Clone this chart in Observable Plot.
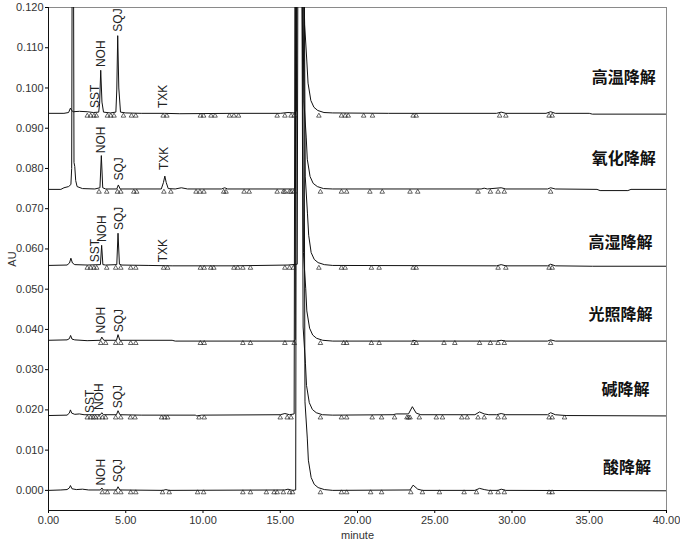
<!DOCTYPE html>
<html>
<head>
<meta charset="utf-8">
<script src="https://cdn.jsdelivr.net/npm/d3@7"></script>
<script src="https://cdn.jsdelivr.net/npm/@observablehq/plot@0.6"></script>
<style>
  html, body { margin: 0; padding: 0; background: #fff; }
  #chart { width: 680px; height: 540px; }
</style>
</head>
<body>
<div id="chart"></div>
<script>
// ---- Tick labels ----
const xTicks = [0, 5, 10, 15, 20, 25, 30, 35, 40];
const yTicks = [0, 0.01, 0.02, 0.03, 0.04, 0.05, 0.06, 0.07, 0.08, 0.09, 0.10, 0.11, 0.12];

// ---- Condition names (one per trace, top to bottom) ----
const conditions = ["高温降解", "氧化降解", "高湿降解", "光照降解", "碱降解", "酸降解"];
const conditionLabelY = [0.1024, 0.0825, 0.0616, 0.0435, 0.0249, 0.0057];
const conditionLabelX = [39.3, 39.3, 39.1, 39.1, 38.9, 39.0];

// ---- Chromatogram traces: [minute, AU] ----
const traceHighTemp = [
  [0, 0.0937], [1.0, 0.0937], [1.3, 0.0939], [1.42, 0.0950], [1.5, 0.0944], [1.6, 0.0941],
  [2.0, 0.0942], [2.5, 0.0941], [2.9, 0.0939], [3.25, 0.0940], [3.31, 0.0962], [3.38, 0.1044],
  [3.46, 0.0965], [3.56, 0.0940], [4.0, 0.0938], [4.36, 0.0940], [4.42, 0.0995], [4.48, 0.1130],
  [4.55, 0.1000], [4.66, 0.0940], [5.0, 0.0938], [6.0, 0.0937], [7.5, 0.0937], [8.5, 0.0936],
  [12.0, 0.0937], [15.0, 0.0937], [15.5, 0.0939], [15.9, 0.0938], [16.04, 0.0942], [16.08, 0.1300],
  [16.5, 0.1300], [16.58, 0.1157], [16.72, 0.1067], [16.8, 0.1012], [16.98, 0.0969], [17.18, 0.0952],
  [17.43, 0.0944], [17.83, 0.0939], [18.4, 0.0938], [22.0, 0.0937], [29.0, 0.0937], [29.3, 0.0940],
  [29.6, 0.0937], [32.2, 0.0937], [32.5, 0.0941], [32.8, 0.0937], [35.0, 0.0937], [35.2, 0.0935],
  [40, 0.0935]
];
const traceOxidation = [
  [0, 0.0748], [0.8, 0.0748], [1.0, 0.0752], [1.3, 0.0755], [1.45, 0.0760], [1.5, 0.0800],
  [1.53, 0.1300], [1.62, 0.1300], [1.65, 0.0815], [1.7, 0.0805], [1.76, 0.0770], [1.85, 0.0755],
  [2.2, 0.0750], [3.0, 0.0749], [3.33, 0.0752], [3.42, 0.0832], [3.51, 0.0752], [3.7, 0.0749],
  [4.42, 0.0749], [4.52, 0.0759], [4.64, 0.0749], [7.3, 0.0749], [7.44, 0.0765], [7.53, 0.0781],
  [7.62, 0.0765], [7.75, 0.0750], [8.2, 0.0749], [8.6, 0.0752], [9.0, 0.0749], [11.2, 0.0749],
  [11.4, 0.0752], [11.6, 0.0749], [15.9, 0.0749], [15.98, 0.0754], [16.02, 0.1300], [16.45, 0.1300],
  [16.53, 0.0968], [16.68, 0.0878], [16.75, 0.0823], [16.93, 0.0780], [17.13, 0.0763], [17.4, 0.0755],
  [17.8, 0.0750], [18.4, 0.0749], [28.0, 0.0749], [28.2, 0.0751], [28.4, 0.0749], [29.3, 0.0752],
  [29.6, 0.0749], [32.3, 0.0749], [32.5, 0.0752], [32.8, 0.0749], [35.5, 0.0748], [35.7, 0.0745],
  [37.5, 0.0745], [37.7, 0.0748], [40, 0.0748]
];
const traceHumidity = [
  [0, 0.0559], [1.2, 0.0560], [1.36, 0.0565], [1.45, 0.0577], [1.55, 0.0565], [1.7, 0.0561],
  [2.5, 0.0560], [3.36, 0.0561], [3.44, 0.0609], [3.52, 0.0561], [3.7, 0.0560], [4.42, 0.0561],
  [4.5, 0.0639], [4.59, 0.0562], [4.75, 0.0560], [6.5, 0.0559], [8.0, 0.0558], [12.0, 0.0558],
  [15.5, 0.0560], [16.1, 0.0562], [16.14, 0.1300], [16.55, 0.1300], [16.62, 0.0779], [16.76, 0.0689],
  [16.84, 0.0634], [17.0, 0.0591], [17.2, 0.0574], [17.45, 0.0566], [17.85, 0.0561], [18.4, 0.0559],
  [29.0, 0.0558], [29.3, 0.0561], [29.6, 0.0558], [32.3, 0.0558], [32.5, 0.0562], [32.8, 0.0558],
  [35.2, 0.0557], [40, 0.0557]
];
const traceLight = [
  [0, 0.0373], [1.2, 0.0374], [1.35, 0.0377], [1.43, 0.0385], [1.52, 0.0376], [1.7, 0.0374],
  [2.5, 0.0372], [3.36, 0.0373], [3.45, 0.0381], [3.58, 0.0373], [4.4, 0.0373], [4.5, 0.0387],
  [4.62, 0.0373], [8.0, 0.0373], [8.2, 0.0371], [15.9, 0.0371], [15.97, 0.0375], [16.0, 0.1300],
  [16.42, 0.1300], [16.5, 0.0591], [16.65, 0.0501], [16.72, 0.0446], [16.9, 0.0403], [17.1, 0.0386],
  [17.35, 0.0378], [17.75, 0.0373], [18.4, 0.0371], [23.5, 0.0371], [23.65, 0.0373], [23.8, 0.0371],
  [29.0, 0.0371], [29.3, 0.0373], [29.6, 0.0371], [32.3, 0.0371], [32.5, 0.0374], [32.8, 0.0371],
  [40, 0.0371]
];
const traceBase = [
  [0, 0.0186], [1.2, 0.0187], [1.35, 0.0192], [1.42, 0.0200], [1.5, 0.0192], [1.7, 0.0189],
  [2.0, 0.0190], [2.3, 0.0188], [3.36, 0.0188], [3.45, 0.0193], [3.55, 0.0188], [4.4, 0.0188],
  [4.5, 0.0198], [4.62, 0.0188], [6.0, 0.0187], [9.5, 0.0187], [9.6, 0.0185], [9.9, 0.0187],
  [15.0, 0.0188], [15.3, 0.0191], [15.6, 0.0188], [15.9, 0.0190], [15.95, 0.1300], [16.4, 0.1300],
  [16.48, 0.0406], [16.63, 0.0316], [16.7, 0.0261], [16.88, 0.0218], [17.08, 0.0201], [17.33, 0.0193],
  [17.73, 0.0188], [18.4, 0.0187], [22.3, 0.0188], [22.5, 0.0190], [23.3, 0.0190], [23.55, 0.0208],
  [23.8, 0.0192], [24.1, 0.0188], [27.6, 0.0188], [27.9, 0.0195], [28.2, 0.0190], [28.5, 0.0188],
  [29.0, 0.0188], [29.3, 0.0191], [29.6, 0.0188], [32.3, 0.0188], [32.5, 0.0193], [32.8, 0.0188],
  [33.5, 0.0186], [40, 0.0185]
];
const traceAcid = [
  [0, 0.0000], [0.8, 0.0001], [1.2, 0.0002], [1.35, 0.0006], [1.42, 0.0012], [1.52, 0.0004],
  [1.8, 0.0002], [2.2, 0.0003], [2.6, 0.0001], [3.36, 0.0001], [3.45, 0.0006], [3.55, 0.0001],
  [4.4, 0.0001], [4.5, 0.0009], [4.62, 0.0001], [7.4, 0.0000], [7.6, 0.0002], [7.8, 0.0000],
  [15.3, 0.0001], [15.5, 0.0003], [15.8, 0.0000], [16.0, 0.0001], [16.05, 0.1300], [16.52, 0.1300],
  [16.6, 0.0220], [16.75, 0.0130], [16.82, 0.0075], [17.0, 0.0032], [17.2, 0.0015], [17.45, 0.0007],
  [17.85, 0.0002], [18.4, 0.0000], [23.4, 0.0001], [23.6, 0.0013], [23.9, 0.0003], [24.2, 0.0000],
  [27.6, 0.0000], [27.9, 0.0005], [28.2, 0.0002], [28.5, 0.0000], [29.1, 0.0000], [29.3, 0.0003],
  [29.6, 0.0000], [40, -0.0001]
];
const traces = [traceHighTemp, traceOxidation, traceHumidity, traceLight, traceBase, traceAcid];

// ---- Integration markers (minutes) and baseline level per trace ----
const markerBaseline = [0.0937, 0.0748, 0.0559, 0.0372, 0.0187, 0.0001];
const markersHighTemp = [2.51, 2.73, 2.94, 3.1, 3.81, 4.03, 4.24, 4.85, 5.37, 5.65, 7.42, 7.66, 9.83, 10.04, 10.52, 10.78, 11.71, 12.0, 12.3, 14.8, 15.3, 15.7, 15.9, 17.5, 18.96, 19.2, 19.4, 20.4, 20.97, 23.6, 23.8, 29.2, 29.6, 32.4, 32.6];
const markersOxidation = [3.27, 3.77, 4.46, 4.68, 5.52, 5.71, 7.47, 7.92, 9.55, 9.8, 10.06, 11.34, 11.49, 12.66, 12.99, 14.8, 15.2, 15.3, 15.6, 15.7, 15.9, 17.6, 18.96, 19.3, 20.8, 21.6, 23.4, 23.9, 27.8, 28.6, 29.1, 29.5, 32.5];
const markersHumidity = [2.51, 2.73, 2.94, 3.12, 3.77, 4.35, 4.68, 5.32, 5.65, 7.45, 7.71, 9.83, 10.08, 10.5, 10.7, 12.0, 12.25, 12.58, 13.07, 15.3, 15.6, 15.85, 17.5, 18.96, 19.2, 20.9, 21.4, 23.6, 23.8, 29.1, 29.6, 32.4, 32.6];
const markersLight = [3.38, 3.7, 4.35, 4.68, 5.32, 5.65, 9.83, 10.08, 12.58, 13.07, 15.3, 15.9, 17.6, 19.1, 19.3, 20.9, 21.4, 23.6, 23.8, 25.6, 26.3, 27.9, 28.6, 29.1, 29.5, 32.5];
const markersBase = [2.51, 2.73, 2.9, 3.05, 3.27, 3.49, 3.7, 4.35, 4.68, 5.3, 5.6, 7.32, 7.53, 7.71, 9.74, 10.08, 15.0, 15.45, 15.7, 17.6, 18.96, 19.3, 20.95, 21.56, 22.4, 23.2, 23.3, 23.4, 24.0, 25.1, 25.5, 26.75, 27.1, 27.8, 28.2, 29.1, 29.5, 32.4, 32.6, 33.4];
const markersAcid = [3.48, 3.81, 4.35, 4.68, 5.32, 5.65, 7.38, 7.81, 9.65, 10.04, 12.58, 13.07, 14.1, 14.6, 14.8, 15.2, 15.6, 15.8, 17.6, 18.96, 19.3, 20.85, 21.56, 23.45, 24.2, 25.3, 26.9, 27.7, 28.6, 29.1, 29.5, 32.4, 32.6];
const markers = [markersHighTemp, markersOxidation, markersHumidity, markersLight, markersBase, markersAcid];

// ---- Peak name labels: [name, minute, AU at the label's bottom] ----
const peakLabels = [
  ["SST", 3.02, 0.0950], ["NOH", 3.38, 0.1052], ["SQJ", 4.52, 0.1140], ["TXK", 7.45, 0.0950],
  ["NOH", 3.40, 0.0838], ["SQJ", 4.55, 0.0770], ["TXK", 7.5, 0.0796],
  ["SST", 3.02, 0.0567], ["NOH", 3.45, 0.0617], ["SQJ", 4.55, 0.0647], ["TXK", 7.45, 0.0567],
  ["NOH", 3.42, 0.0390], ["SQJ", 4.55, 0.0393],
  ["SST", 2.7, 0.0192], ["NOH", 3.3, 0.0200], ["SQJ", 4.5, 0.0204],
  ["NOH", 3.38, 0.0012], ["SQJ", 4.52, 0.0020]
];

// ---- Build tables for the library ----
const lineData = traces.flatMap((pts, i) => pts.map(([t, v]) => ({t, v, s: i})));
const markerData = markers.flatMap((ts, i) => ts.map(t => ({t, v: markerBaseline[i]})));
const peakData = peakLabels.map(([name, t, v]) => ({name, t, v}));
const condData = conditions.map((name, i) => ({name, t: conditionLabelX[i], v: conditionLabelY[i]}));

const chart = Plot.plot({
  width: 680,
  height: 540,
  marginLeft: 48,
  marginRight: 14,
  marginTop: 7,
  marginBottom: 30,
  style: {fontFamily: "'Liberation Sans', Arial, sans-serif", fontSize: "11px", background: "#fff"},
  x: {domain: [0, 40]},
  y: {domain: [-0.005, 0.12]},
  marks: [
    Plot.frame({stroke: "#8a8a8a"}),
    Plot.line(lineData, {x: "t", y: "v", z: "s", stroke: "#111", strokeWidth: 1, clip: true}),
    Plot.dot(markerData, {x: "t", y: "v", symbol: "triangle", r: 1.7, stroke: "#222", strokeWidth: 0.7, fill: "none", dy: 2.5}),
    Plot.text(peakData, {x: "t", y: "v", text: "name", rotate: -90, textAnchor: "start", fontSize: 12, fill: "#222"}),
    Plot.text(condData, {x: "t", y: "v", text: "name", textAnchor: "end", fontSize: 16, fontWeight: "bold", fill: "#111", fontFamily: "'Noto Sans CJK SC', sans-serif"}),
    Plot.axisX({ticks: xTicks, tickFormat: ".2f", tickSize: 3, tickPadding: 3, label: "minute", labelAnchor: "center", labelArrow: "none", labelOffset: 28, fill: "#333"}),
    Plot.axisY({ticks: yTicks, tickFormat: ".3f", tickSize: 3, tickPadding: 2, label: "AU", labelAnchor: "center", labelArrow: "none", labelOffset: 40, fill: "#333"}),
    Plot.ruleX([0], {stroke: "#111"}),
    Plot.ruleY([-0.005], {stroke: "#111"})
  ]
});
document.getElementById("chart").appendChild(chart);
</script>
</body>
</html>
